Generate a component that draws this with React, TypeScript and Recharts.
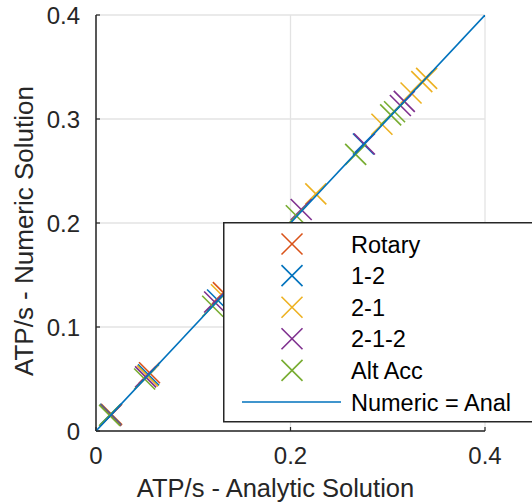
import React from 'react';
import { ScatterChart, Scatter, XAxis, YAxis, CartesianGrid, Legend } from 'recharts';

const seriesNames = ['Rotary', '1-2', '2-1', '2-1-2', 'Alt Acc'];
const seriesColors = ['#D95319', '#0072BD', '#EDB120', '#7E2F8E', '#77AC30'];

const rotary = [
  { x: 0.016, y: 0.016 },
  { x: 0.055, y: 0.056 },
  { x: 0.131, y: 0.133 },
];
const oneTwo = [
  { x: 0.015, y: 0.016 },
  { x: 0.054, y: 0.054 },
  { x: 0.125, y: 0.126 },
  { x: 0.275, y: 0.276 },
];
const twoOne = [
  { x: 0.015, y: 0.015 },
  { x: 0.053, y: 0.053 },
  { x: 0.129, y: 0.131 },
  { x: 0.226, y: 0.228 },
  { x: 0.294, y: 0.295 },
  { x: 0.324, y: 0.325 },
  { x: 0.335, y: 0.336 },
  { x: 0.34, y: 0.339 },
];
const twoOneTwo = [
  { x: 0.015, y: 0.015 },
  { x: 0.051, y: 0.052 },
  { x: 0.122, y: 0.124 },
  { x: 0.211, y: 0.213 },
  { x: 0.276, y: 0.276 },
  { x: 0.313, y: 0.313 },
  { x: 0.317, y: 0.317 },
];
const altAcc = [
  { x: 0.014, y: 0.015 },
  { x: 0.05, y: 0.05 },
  { x: 0.12, y: 0.12 },
  { x: 0.206, y: 0.207 },
  { x: 0.267, y: 0.266 },
  { x: 0.303, y: 0.304 },
  { x: 0.307, y: 0.307 },
];
const seriesData = [rotary, oneTwo, twoOne, twoOneTwo, altAcc];

const lineLabel = 'Numeric = Anal';
const lineColor = '#0072BD';
const lineData = [
  { x: 0, y: 0 },
  { x: 0.4, y: 0.4 },
];

const xTicks = [0, 0.2, 0.4];
const yTicks = [0, 0.1, 0.2, 0.3, 0.4];
const xLabel = 'ATP/s - Analytic Solution';
const yLabel = 'ATP/s - Numeric Solution';

const FONT = '"Liberation Sans", Arial, Helvetica, sans-serif';
const AXIS_COLOR = '#262626';

const XMark = ({ cx, cy, color, r = 10.5 }: any) => (
  <g stroke={color} strokeWidth={1.6} fill="none">
    <line x1={cx - r} y1={cy - r} x2={cx + r} y2={cy + r} />
    <line x1={cx - r} y1={cy + r} x2={cx + r} y2={cy - r} />
  </g>
);

const XTick = (props: any) => {
  const { x, y, payload } = props;
  return (
    <g>
      <line x1={x} x2={x} y1={y} y2={y - 4} stroke={AXIS_COLOR} strokeWidth={1.2} />
      <text x={x} y={y + 33} textAnchor="middle" fontSize={24} fill={AXIS_COLOR} fontFamily={FONT}>
        {String(payload.value)}
      </text>
    </g>
  );
};

const YTick = (props: any) => {
  const { x, y, payload } = props;
  return (
    <g>
      <line x1={x} x2={x + 4} y1={y} y2={y} stroke={AXIS_COLOR} strokeWidth={1.2} />
      <text x={x - 16} y={y + 8.5} textAnchor="end" fontSize={24} fill={AXIS_COLOR} fontFamily={FONT}>
        {String(payload.value)}
      </text>
    </g>
  );
};

const XLabelContent = (props: any) => {
  const vb = props.viewBox || { x: 96, y: 431, width: 389, height: 73 };
  const cx = vb.x + vb.width / 2 - 15;
  return (
    <text x={cx} y={vb.y + 66} textAnchor="middle" fontSize={25.5} fill={AXIS_COLOR} fontFamily={FONT}>
      {xLabel}
    </text>
  );
};

const YLabelContent = (props: any) => {
  const vb = props.viewBox || { x: 0, y: 15, width: 96, height: 416 };
  const x = vb.x + 33;
  const y = vb.y + vb.height / 2 + 8;
  return (
    <text
      x={x}
      y={y}
      textAnchor="middle"
      fontSize={26}
      fill={AXIS_COLOR}
      fontFamily={FONT}
      transform={`rotate(-90, ${x}, ${y})`}
    >
      {yLabel}
    </text>
  );
};

const renderLegend = () => {
  const rowH = 31.6;
  const firstRow = 22;
  return (
    <svg width={330} height={201} style={{ display: 'block' }}>
      <rect x={0.75} y={0.75} width={340} height={199} fill="#fff" stroke={AXIS_COLOR} strokeWidth={1.5} />
      {seriesNames.map((n, i) => (
        <g key={n}>
          <XMark cx={69} cy={firstRow + i * rowH} color={seriesColors[i]} r={10.5} />
          <text x={128} y={firstRow + i * rowH + 8.5} fontSize={23.5} fill="#000" fontFamily={FONT}>
            {n}
          </text>
        </g>
      ))}
      <line
        x1={19}
        x2={118}
        y1={firstRow + 5 * rowH}
        y2={firstRow + 5 * rowH}
        stroke={lineColor}
        strokeWidth={1.6}
      />
      <text x={128} y={firstRow + 5 * rowH + 8.5} fontSize={23.5} fill="#000" fontFamily={FONT}>
        {lineLabel}
      </text>
    </svg>
  );
};

export default function App() {
  return (
    <div
      style={{
        position: 'absolute',
        left: 0,
        top: 0,
        width: 532,
        height: 504,
        overflow: 'hidden',
        background: '#fff',
        fontFamily: FONT,
      }}
    >
      <ScatterChart width={532} height={504} margin={{ top: 15, right: 47, left: 0, bottom: 0 }}>
        <CartesianGrid stroke="#e3e3e3" strokeWidth={1.3} />
        <XAxis
          type="number"
          dataKey="x"
          domain={[0, 0.4]}
          ticks={xTicks}
          height={73}
          tickSize={0}
          tickMargin={0}
          tickLine={false}
          axisLine={{ stroke: AXIS_COLOR, strokeWidth: 1.5 }}
          tick={XTick}
          interval={0}
          allowDataOverflow
          label={{ content: XLabelContent }}
        />
        <YAxis
          type="number"
          dataKey="y"
          domain={[0, 0.4]}
          ticks={yTicks}
          width={96}
          tickSize={0}
          tickMargin={0}
          tickLine={false}
          axisLine={{ stroke: AXIS_COLOR, strokeWidth: 1.5 }}
          tick={YTick}
          interval={0}
          allowDataOverflow
          label={{ content: YLabelContent }}
        />
        {seriesData.map((d, i) => (
          <Scatter
            key={seriesNames[i]}
            name={seriesNames[i]}
            data={d}
            isAnimationActive={false}
            shape={(p: any) => <XMark cx={p.cx} cy={p.cy} color={seriesColors[i]} />}
          />
        ))}
        <Scatter
          name={lineLabel}
          data={lineData}
          isAnimationActive={false}
          line={{ stroke: lineColor, strokeWidth: 1.6 }}
          shape={() => <g />}
        />
        <Legend
          layout="vertical"
          align="center"
          verticalAlign="middle"
          content={renderLegend}
          wrapperStyle={{ left: 223, top: 222, width: 330, height: 201 }}
        />
      </ScatterChart>
    </div>
  );
}
